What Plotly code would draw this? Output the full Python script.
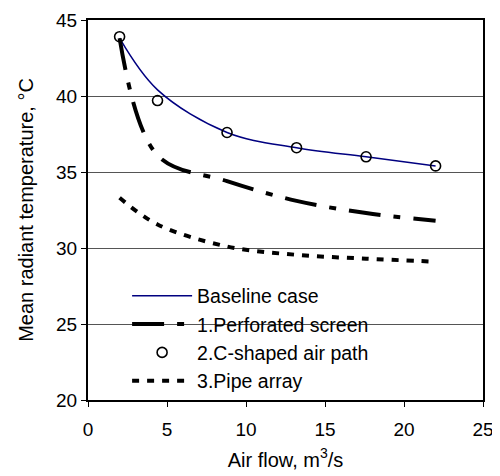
import plotly.graph_objects as go

# vazão de ar (m3/s) usada em todas as séries
air_flow = [2.0, 4.4, 8.8, 13.2, 17.6, 22.0]

# temperatura radiante média, °C
baseline_case = [43.8, 40.4, 37.6, 36.6, 36.0, 35.4]
perforated_screen = [43.8, 36.1, 34.4, 33.1, 32.3, 31.8]
c_shaped_air_path = [43.9, 39.7, 37.6, 36.6, 36.0, 35.4]
pipe_array = [33.3, 31.55, 30.1, 29.55, 29.3, 29.1]

x_ticks = [0, 5, 10, 15, 20, 25]
y_ticks = [20, 25, 30, 35, 40, 45]

FONT = "Liberation Sans, Arial, sans-serif"

# a página tem 8px de margem no body, então a figura fica 8px menor
# e as margens internas compensam esse deslocamento
figure = go.Figure()

figure.add_trace(
    go.Scatter(
        x=air_flow,
        y=baseline_case,
        mode="lines",
        line=dict(color="#000080", width=1.5, shape="spline", smoothing=1.0),
        name="Baseline case",
    )
)

figure.add_trace(
    go.Scatter(
        x=air_flow,
        y=perforated_screen,
        mode="lines",
        line=dict(color="black", width=4, dash="32px,13px,7px,13px", shape="spline", smoothing=1.0),
        name="1.Perforated screen",
    )
)

figure.add_trace(
    go.Scatter(
        x=air_flow,
        y=c_shaped_air_path,
        mode="markers",
        marker=dict(symbol="circle-open", size=10, color="black", line=dict(width=1.6, color="black")),
        name="2.C-shaped air path",
    )
)

figure.add_trace(
    go.Scatter(
        x=air_flow,
        y=pipe_array,
        mode="lines",
        line=dict(color="black", width=4, dash="7px,8px", shape="spline", smoothing=1.0),
        name="3.Pipe array",
    )
)

# fundo branco da caixa da legenda (esconde a linha de grade do 25)
figure.add_shape(
    type="rect",
    xref="paper",
    yref="paper",
    x0=0.048,
    x1=0.795,
    y0=0.02,
    y1=0.31,
    fillcolor="white",
    line=dict(width=0),
    layer="between",
)

figure.update_layout(
    width=492,
    height=468,
    margin=dict(l=80, r=17, t=12, b=76),
    paper_bgcolor="white",
    plot_bgcolor="white",
    font=dict(family=FONT, size=19, color="black"),
    showlegend=True,
    legend=dict(
        x=0.099,
        y=0.325,
        xanchor="left",
        yanchor="top",
        bgcolor="rgba(0,0,0,0)",
        borderwidth=0,
        itemwidth=60,
        tracegroupgap=0,
        font=dict(family=FONT, size=19.5, color="black"),
    ),
    xaxis=dict(
        range=[0, 25],
        tickvals=x_ticks,
        ticks="outside",
        ticklen=5,
        tickcolor="black",
        ticklabelstandoff=6,
        showgrid=False,
        zeroline=False,
        showline=True,
        linecolor="black",
        linewidth=2,
        mirror=True,
        automargin=False,
        title=dict(text="Air flow, m<sup>3</sup>/s", standoff=14, font=dict(size=20)),
        tickfont=dict(size=19),
    ),
    yaxis=dict(
        range=[20, 45],
        tickvals=y_ticks,
        ticks="outside",
        ticklen=5,
        tickcolor="black",
        showgrid=True,
        gridcolor="#555555",
        gridwidth=1,
        zeroline=False,
        showline=True,
        linecolor="black",
        linewidth=2,
        mirror=True,
        automargin=False,
        title=dict(text="Mean radiant temperature, °C", standoff=17, font=dict(size=20)),
        tickfont=dict(size=19),
    ),
)

figure.write_html("out.html")
